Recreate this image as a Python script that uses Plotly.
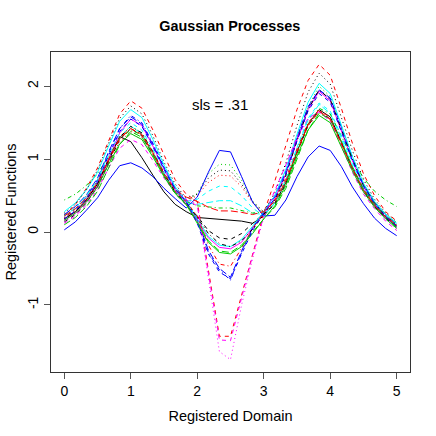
"""Gaussian Processes: registered functions over the registered domain (matplot-style)."""

import plotly.graph_objects as go

# Registered domain grid (31 points, step 1/6)
X = [0.000, 0.167, 0.333, 0.500, 0.667, 0.833, 1.000, 1.167, 1.333, 1.500,
     1.667, 1.833, 2.000, 2.167, 2.333, 2.500, 2.667, 2.833, 3.000, 3.167,
     3.333, 3.500, 3.667, 3.833, 4.000, 4.167, 4.333, 4.500, 4.667, 4.833, 5.000]

# registered functions
f01 = [0.18, 0.28, 0.44, 0.66, 0.98, 1.31, 1.24, 1.02, 0.78, 0.55, 0.38, 0.28, 0.20, 0.19, 0.18, 0.17,
       0.15, 0.12, 0.22, 0.40, 0.68, 1.10, 1.48, 1.68, 1.58, 1.24, 0.88, 0.58, 0.36, 0.20, 0.08]
f02 = [0.22, 0.38, 0.60, 0.88, 1.25, 1.62, 1.80, 1.70, 1.40, 1.05, 0.72, 0.52, 0.42, -0.52, -1.43, -1.43,
       -0.87, -0.31, 0.26, 0.70, 1.20, 1.68, 2.08, 2.30, 2.15, 1.70, 1.22, 0.80, 0.50, 0.28, 0.15]
f03 = [0.24, 0.34, 0.50, 0.70, 1.02, 1.31, 1.45, 1.36, 1.10, 0.80, 0.56, 0.42, 0.53, 0.80, 0.93, 0.92,
       0.71, 0.42, 0.24, 0.44, 0.80, 1.28, 1.72, 2.00, 1.86, 1.45, 1.02, 0.66, 0.42, 0.25, 0.13]
f04 = [0.20, 0.31, 0.48, 0.72, 1.08, 1.42, 1.60, 1.50, 1.22, 0.90, 0.62, 0.44, 0.15, -0.28, -0.52, -0.66,
       -0.28, 0.05, 0.28, 0.48, 0.82, 1.28, 1.70, 1.95, 1.82, 1.42, 1.00, 0.64, 0.40, 0.22, 0.08]
f05 = [0.22, 0.32, 0.48, 0.68, 1.00, 1.30, 1.45, 1.35, 1.08, 0.78, 0.54, 0.40, 0.38, 0.40, 0.43, 0.43,
       0.36, 0.26, 0.24, 0.40, 0.70, 1.14, 1.54, 1.75, 1.63, 1.28, 0.90, 0.58, 0.37, 0.21, 0.10]
f06 = [0.16, 0.26, 0.42, 0.64, 1.00, 1.36, 1.55, 1.46, 1.18, 0.86, 0.58, 0.40, 0.15, -0.08, -0.21, -0.23,
       -0.14, 0.06, 0.26, 0.46, 0.80, 1.26, 1.68, 1.93, 1.80, 1.40, 0.98, 0.62, 0.38, 0.20, 0.06]
f07 = [0.14, 0.24, 0.40, 0.62, 0.95, 1.27, 1.42, 1.32, 1.06, 0.77, 0.53, 0.38, 0.22, 0.02, -0.08, -0.10,
       -0.02, 0.12, 0.25, 0.38, 0.66, 1.08, 1.46, 1.66, 1.55, 1.22, 0.86, 0.56, 0.35, 0.19, 0.07]
f08 = [0.18, 0.28, 0.43, 0.63, 0.95, 1.24, 1.38, 1.30, 1.06, 0.78, 0.55, 0.42, 0.50, 0.68, 0.78, 0.77,
       0.62, 0.40, 0.26, 0.40, 0.68, 1.08, 1.45, 1.65, 1.54, 1.22, 0.86, 0.57, 0.36, 0.21, 0.11]
f09 = [0.44, 0.52, 0.64, 0.80, 1.04, 1.28, 1.40, 1.33, 1.10, 0.82, 0.58, 0.42, 0.36, 0.34, 0.33, 0.33,
       0.30, 0.26, 0.28, 0.42, 0.70, 1.10, 1.48, 1.70, 1.62, 1.32, 1.00, 0.74, 0.56, 0.44, 0.35]
f10 = [0.24, 0.35, 0.51, 0.74, 1.10, 1.42, 1.58, 1.48, 1.20, 0.88, 0.60, 0.42, 0.18, -0.25, -0.50, -0.62,
       -0.26, 0.06, 0.28, 0.50, 0.84, 1.30, 1.72, 1.95, 1.84, 1.45, 1.03, 0.66, 0.41, 0.24, 0.11]
f11 = [0.28, 0.40, 0.58, 0.82, 1.18, 1.52, 1.68, 1.57, 1.27, 0.92, 0.62, 0.42, 0.18, -0.06, -0.18, -0.20,
       -0.10, 0.08, 0.28, 0.50, 0.86, 1.34, 1.78, 2.04, 1.90, 1.48, 1.04, 0.67, 0.42, 0.24, 0.12]
f12 = [0.12, 0.22, 0.37, 0.58, 0.88, 1.15, 1.27, 1.20, 0.98, 0.74, 0.54, 0.44, 0.36, -0.58, -1.48, -1.49,
       -0.90, -0.32, 0.22, 0.56, 0.92, 1.30, 1.56, 1.65, 1.52, 1.18, 0.82, 0.52, 0.32, 0.15, 0.02]
f13 = [0.26, 0.38, 0.58, 0.85, 1.22, 1.56, 1.73, 1.62, 1.32, 0.96, 0.66, 0.46, 0.52, 0.74, 0.85, 0.84,
       0.66, 0.42, 0.28, 0.54, 0.95, 1.46, 1.92, 2.18, 2.03, 1.58, 1.12, 0.72, 0.45, 0.26, 0.14]
f14 = [0.20, 0.30, 0.45, 0.66, 0.98, 1.28, 1.42, 1.33, 1.08, 0.80, 0.56, 0.42, 0.22, -0.18, -0.44, -0.47,
       -0.22, 0.05, 0.26, 0.44, 0.74, 1.14, 1.50, 1.68, 1.57, 1.24, 0.88, 0.58, 0.37, 0.21, 0.09]
f15 = [0.10, 0.20, 0.35, 0.56, 0.88, 1.20, 1.38, 1.30, 1.06, 0.78, 0.54, 0.38, 0.14, -0.12, -0.26, -0.28,
       -0.18, 0.00, 0.18, 0.34, 0.60, 1.00, 1.40, 1.63, 1.55, 1.24, 0.90, 0.60, 0.38, 0.21, 0.06]
f16 = [0.03, 0.14, 0.30, 0.47, 0.71, 0.91, 0.95, 0.88, 0.76, 0.60, 0.46, 0.33, 0.48, 0.82, 1.12, 1.10,
       0.76, 0.41, 0.22, 0.23, 0.44, 0.76, 1.03, 1.18, 1.12, 0.90, 0.62, 0.39, 0.19, 0.05, -0.05]
f17 = [0.22, 0.33, 0.50, 0.72, 1.06, 1.36, 1.50, 1.40, 1.13, 0.82, 0.57, 0.42, 0.45, 0.56, 0.63, 0.62,
       0.50, 0.33, 0.22, 0.40, 0.72, 1.16, 1.56, 1.77, 1.66, 1.32, 0.94, 0.62, 0.40, 0.23, 0.12]
f18 = [0.14, 0.24, 0.40, 0.60, 0.92, 1.21, 1.35, 1.27, 1.04, 0.78, 0.56, 0.45, 0.38, -0.62, -1.64, -1.75,
       -1.00, -0.36, 0.20, 0.54, 0.90, 1.28, 1.55, 1.65, 1.53, 1.20, 0.85, 0.55, 0.34, 0.17, 0.04]
f19 = [0.18, 0.28, 0.44, 0.66, 1.00, 1.30, 1.45, 1.36, 1.10, 0.80, 0.55, 0.40, 0.20, -0.02, -0.16, -0.20,
       -0.12, 0.04, 0.24, 0.44, 0.78, 1.25, 1.68, 1.95, 1.82, 1.42, 1.00, 0.64, 0.40, 0.22, 0.10]
f20 = [0.22, 0.32, 0.47, 0.68, 1.00, 1.29, 1.42, 1.34, 1.09, 0.80, 0.58, 0.48, 0.42, 0.34, 0.29, 0.29,
       0.27, 0.24, 0.28, 0.42, 0.70, 1.10, 1.47, 1.66, 1.55, 1.22, 0.87, 0.57, 0.37, 0.21, 0.10]
f21 = [0.16, 0.26, 0.41, 0.62, 0.93, 1.21, 1.35, 1.27, 1.03, 0.76, 0.53, 0.38, 0.12, -0.14, -0.28, -0.30,
       -0.20, -0.02, 0.18, 0.36, 0.64, 1.04, 1.40, 1.60, 1.50, 1.18, 0.84, 0.55, 0.34, 0.18, 0.05]
f22 = [0.18, 0.29, 0.46, 0.69, 1.05, 1.38, 1.55, 1.45, 1.17, 0.86, 0.59, 0.42, 0.12, -0.30, -0.55, -0.64,
       -0.30, 0.02, 0.26, 0.46, 0.80, 1.25, 1.66, 1.90, 1.78, 1.39, 0.98, 0.63, 0.39, 0.21, 0.08]

CURVES = [f01, f02, f03, f04, f05, f06, f07, f08, f09, f10, f11,
          f12, f13, f14, f15, f16, f17, f18, f19, f20, f21, f22]

# classic R palette and line types, cycled like matplot does
COLORS = ["#000000", "#FF0000", "#00CD00", "#0000FF", "#00FFFF", "#FF00FF"]
DASHES = ["solid", "4px,4px", "1px,3px", "1px,3px,4px,3px", "7px,3px"]

fig = go.Figure()
for i, y in enumerate(CURVES):
    fig.add_trace(go.Scatter(
        x=X, y=y, mode="lines",
        line=dict(color=COLORS[i % 6], dash=DASHES[i % 5], width=1),
        showlegend=False, hoverinfo="skip",
    ))

fig.add_annotation(x=2.34, y=1.75, text="sls = .31", showarrow=False,
                   font=dict(size=15, color="black"))

axis_common = dict(
    showgrid=False, zeroline=False, automargin=False,
    showline=True, mirror=True, linecolor="#333333", linewidth=1,
    ticks="outside", ticklen=6, tickcolor="#555555",
    tickfont=dict(size=14, color="black"),
)
fig.update_layout(
    width=436, height=436,
    margin=dict(l=51, r=26, t=52, b=64),
    paper_bgcolor="white", plot_bgcolor="white",
    font=dict(family="Liberation Sans, Arial, sans-serif", color="black"),
    title=dict(text="<b>Gaussian Processes</b>", x=0.527, xanchor="center",
               y=0.94, yanchor="middle", font=dict(size=14.4), automargin=False),
    xaxis=dict(range=[-0.2, 5.2], tickvals=[0, 1, 2, 3, 4, 5],
               title=dict(text="Registered Domain", font=dict(size=14.5), standoff=13),
               **axis_common),
    yaxis=dict(range=[-1.92, 2.47], tickvals=[-1, 0, 1, 2],
               ticktext=["-1", "0", "1", "2"], tickangle=-90,
               title=dict(text="Registered Functions", font=dict(size=14.5), standoff=5),
               **axis_common),
)

# drop the browser's default page margin so the figure sits at the top-left corner
fig.write_html("out.html", config={"displayModeBar": False},
               post_script="document.body.style.margin = '0';")
